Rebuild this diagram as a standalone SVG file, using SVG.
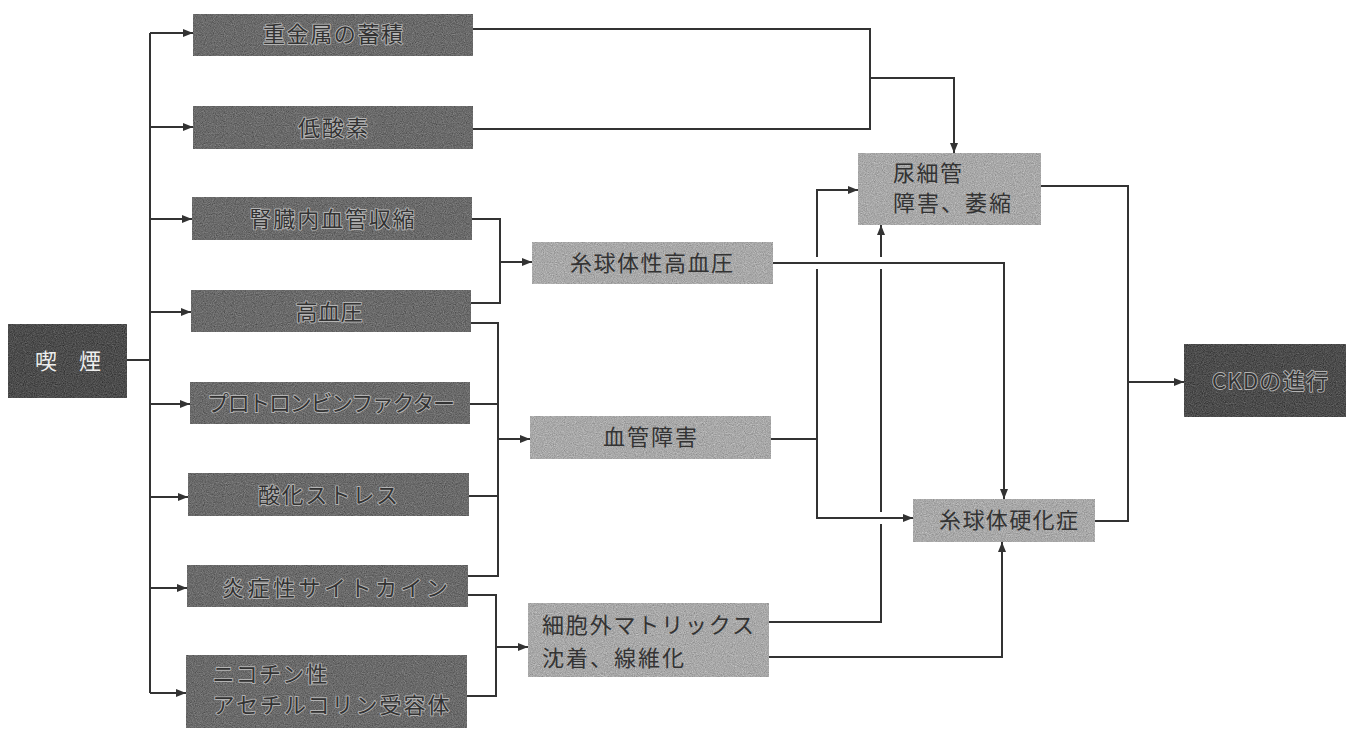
<svg xmlns="http://www.w3.org/2000/svg" width="1346" height="731" viewBox="0 0 1346 731">
<defs>
<style>
.bx{filter:url(#grain);}
.mid{fill:#a8a8a8;}
.dk{fill:#6a6a6a;}
.vdk{fill:#4c4c4c;}
text{font-family:"Noto Sans CJK JP","Noto Sans",sans-serif;font-size:22px;}
.tl{fill:#333333;stroke:#b4b4b4;stroke-width:1.8px;paint-order:stroke;stroke-linejoin:round;text-anchor:middle;}
.tm{fill:#333;}
.tw{fill:#eeeeee;text-anchor:middle;}
.ln{fill:none;stroke:#333;stroke-width:2;}
.ar{fill:none;stroke:#333;stroke-width:2;marker-end:url(#ah);}
</style>
<filter id="grain" x="0" y="0" width="100%" height="100%" color-interpolation-filters="sRGB">
<feTurbulence type="fractalNoise" baseFrequency="0.9" numOctaves="2" seed="4" result="n"/>
<feColorMatrix in="n" type="matrix" values="0.33 0.33 0.34 0 0  0.33 0.33 0.34 0 0  0.33 0.33 0.34 0 0  0 0 0 0 1" result="g"/>
<feComposite in="SourceGraphic" in2="g" operator="arithmetic" k1="0" k2="1" k3="0.5" k4="-0.25" result="m"/>
<feComposite in="m" in2="SourceGraphic" operator="in"/>
</filter>
<marker id="ah" markerUnits="userSpaceOnUse" markerWidth="10" markerHeight="8" refX="10" refY="4" orient="auto">
<path d="M0,0 L10,4 L0,8 z" fill="#333"/>
</marker>
</defs>
<rect width="1346" height="731" fill="#ffffff"/>

<g id="connectors">
<path class="ln" d="M127,360 H150"/>
<path class="ln" d="M150,33 V693"/>
<path class="ar" d="M150,33 H193"/>
<path class="ar" d="M150,127 H193"/>
<path class="ar" d="M150,219 H192"/>
<path class="ar" d="M150,312 H191"/>
<path class="ar" d="M150,404 H190"/>
<path class="ar" d="M150,497 H188"/>
<path class="ar" d="M150,588 H187"/>
<path class="ar" d="M150,693 H186"/>
<path class="ln" d="M473,29 H870 V129 H473"/>
<path class="ar" d="M870,78 H954 V153"/>
<path class="ln" d="M472,219 H500 V303 H471"/>
<path class="ar" d="M500,262 H532"/>
<path class="ln" d="M471,323 H498 V576 H468"/>
<path class="ln" d="M470,404 H498"/>
<path class="ln" d="M469,496 H498"/>
<path class="ar" d="M498,439 H530"/>
<path class="ln" d="M468,595 H496 V696 H467"/>
<path class="ar" d="M496,647 H528"/>
<path class="ar" d="M773,263 H1004 V499"/>
<path class="ln" d="M771,439 H817"/>
<path class="ln" d="M817,190 V257"/>
<path class="ln" d="M817,269 V518"/>
<path class="ar" d="M816,190 H858"/>
<path class="ar" d="M816,518 H913"/>
<path class="ln" d="M769,622 H881 V524"/>
<path class="ln" d="M881,512 V269"/>
<path class="ar" d="M881,257 V225"/>
<path class="ar" d="M769,657 H1002 V542"/>
<path class="ln" d="M1041,186 H1128 V521 H1095"/>
<path class="ar" d="M1128,382 H1184"/>
</g>

<g id="n-smoking">
<rect class="bx vdk" x="8" y="324" width="119" height="74"/>
<text class="tw" x="68" y="369">喫　煙</text>
</g>

<g id="n-heavy-metal">
<rect class="bx dk" x="193" y="14" width="280" height="42"/>
<text class="tl" x="333" y="42" textLength="140" lengthAdjust="spacing">重金属の蓄積</text>
</g>
<g id="n-hypoxia">
<rect class="bx dk" x="193" y="106" width="280" height="43"/>
<text class="tl" x="333" y="136" textLength="70" lengthAdjust="spacing">低酸素</text>
</g>
<g id="n-renal-vasoconstriction">
<rect class="bx dk" x="192" y="197" width="280" height="43"/>
<text class="tl" x="332" y="227" textLength="165" lengthAdjust="spacing">腎臓内血管収縮</text>
</g>
<g id="n-hypertension">
<rect class="bx dk" x="191" y="290" width="280" height="42"/>
<text class="tl" x="329" y="320" textLength="67" lengthAdjust="spacing">高血圧</text>
</g>
<g id="n-prothrombin">
<rect class="bx dk" x="190" y="382" width="280" height="42"/>
<text class="tl" x="331" y="411" textLength="248" lengthAdjust="spacing">プロトロンビンファクター</text>
</g>
<g id="n-oxidative">
<rect class="bx dk" x="188" y="473" width="281" height="43"/>
<text class="tl" x="328" y="503" textLength="140" lengthAdjust="spacing">酸化ストレス</text>
</g>
<g id="n-cytokine">
<rect class="bx dk" x="187" y="565" width="281" height="42"/>
<text class="tl" x="335" y="596" textLength="226" lengthAdjust="spacing">炎症性サイトカイン</text>
</g>
<g id="n-nicotinic">
<rect class="bx dk" x="186" y="655" width="281" height="73"/>
<text class="tl" x="270" y="682" textLength="115" lengthAdjust="spacing">ニコチン性</text>
<text class="tl" x="331" y="713" textLength="237" lengthAdjust="spacing">アセチルコリン受容体</text>
</g>

<g id="n-glomerular-hypertension">
<rect class="bx mid" x="532" y="242" width="241" height="42"/>
<text class="tm" x="570" y="271" textLength="163" lengthAdjust="spacing">糸球体性高血圧</text>
</g>
<g id="n-vascular-damage">
<rect class="bx mid" x="530" y="416" width="241" height="43"/>
<text class="tm" x="603" y="445" textLength="94" lengthAdjust="spacing">血管障害</text>
</g>
<g id="n-ecm">
<rect class="bx mid" x="528" y="603" width="241" height="74"/>
<text class="tm" x="542" y="633" textLength="212" lengthAdjust="spacing">細胞外マトリックス</text>
<text class="tm" x="542" y="666" textLength="142" lengthAdjust="spacing">沈着、線維化</text>
</g>

<g id="n-tubule">
<rect class="bx mid" x="858" y="153" width="183" height="72"/>
<text class="tm" x="893" y="181" textLength="69" lengthAdjust="spacing">尿細管</text>
<text class="tm" x="893" y="211" textLength="118" lengthAdjust="spacing">障害、萎縮</text>
</g>
<g id="n-sclerosis">
<rect class="bx mid" x="913" y="499" width="182" height="43"/>
<text class="tm" x="939" y="528" textLength="139" lengthAdjust="spacing">糸球体硬化症</text>
</g>

<g id="n-ckd">
<rect class="bx vdk" x="1184" y="344" width="162" height="73"/>
<text class="tl" x="1270" y="389" textLength="116" lengthAdjust="spacing">CKDの進行</text>
</g>
</svg>
